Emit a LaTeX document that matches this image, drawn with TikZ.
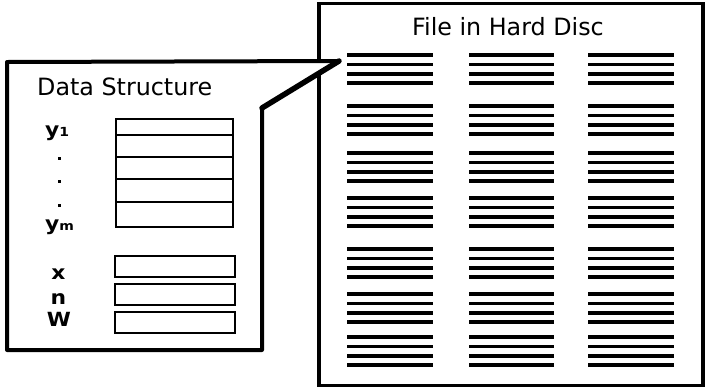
\documentclass[tikz,border=0pt]{standalone}
\usepackage{fontspec}
\setmainfont{DejaVu Sans}
\newcommand{\smallidx}[1]{{\fontsize{12.5}{13}\selectfont #1}}
\newcommand{\widelabel}[1]{\scalebox{1.12}[1]{#1}}
\begin{document}
\begin{tikzpicture}[x=1pt,y=-1pt,
  titletext/.style={font=\fontsize{23.8}{28}\selectfont, inner sep=0pt, anchor=base west},
  labeltext/.style={font=\fontsize{19.5}{22}\selectfont\bfseries, inner sep=0pt},
  field/.style={draw, line width=2.4pt, fill=white, inner sep=0pt},
  stackfield/.style={field, minimum width=117pt},
  singlefield/.style={field, minimum width=120pt, minimum height=21pt},
  record/.style={line width=3.2pt},
  frame/.style={line width=3.6pt},
  callout/.style={line width=4pt, line join=round, fill=white},
  dotmark/.style={fill=black, minimum size=3pt, inner sep=0pt}
]
\useasboundingbox (0,0) rectangle (706,389);

% file on the hard disc
\node[draw, frame, fill=white, minimum width=384pt, minimum height=382pt, inner sep=0pt]
  (disc) at (511,194.5) {};
\node[titletext] (disctitle) at (412,35) {File in Hard Disc};

% records of the file: three columns of four-line blocks
\foreach \gy in {55,106,153,198,249,294,337}{
  \foreach \cx/\cw in {347/86,469/85,588/86}{
    \foreach \dy in {0,9.5,19,28}{
      \draw[record] (\cx,\gy+\dy) -- ++(\cw,0);
    }
  }
}

% callout holding the data structure
\coordinate (tl) at (7,62);
\coordinate (tip) at (339,61);
\coordinate (elbow) at (262,108);
\coordinate (br) at (262,350);
\coordinate (bl) at (7,350);
\draw[callout] (tl) -- (tip) -- (elbow) -- (br) -- (bl) -- cycle;
\draw[line width=5.5pt, line cap=round] (tip) -- (elbow);

\node[titletext] (dstitle) at (37,95) {Data Structure};

% y_1 ... y_m stacked fields
\node[stackfield, minimum height=16pt] (f1) at (174.5,127) {};
\node[stackfield, minimum height=22pt] (f2) at (174.5,146) {};
\node[stackfield, minimum height=22pt] (f3) at (174.5,168) {};
\node[stackfield, minimum height=23pt] (f4) at (174.5,190.5) {};
\node[stackfield, minimum height=25pt] (f5) at (174.5,214.5) {};

\node[labeltext, anchor=base west] (ly1) at (45,136) {\widelabel{y\smallidx{1}}};
\node[dotmark] (d1) at (59,158) {};
\node[dotmark] (d2) at (59,181) {};
\node[dotmark] (d3) at (59,205) {};
\node[labeltext, anchor=base west] (lym) at (45,230) {\widelabel{y\smallidx{m}}};

% scalar fields
\node[singlefield] (fx) at (175,266.5) {};
\node[singlefield] (fn) at (175,294.5) {};
\node[singlefield] (fw) at (175,322.5) {};
\node[labeltext, anchor=base] (lx) at (58.5,279) {\widelabel{x}};
\node[labeltext, anchor=base] (ln) at (58.5,304) {\widelabel{n}};
\node[labeltext, anchor=base] (lw) at (59,326) {\widelabel{W}};
\end{tikzpicture}
\end{document}
